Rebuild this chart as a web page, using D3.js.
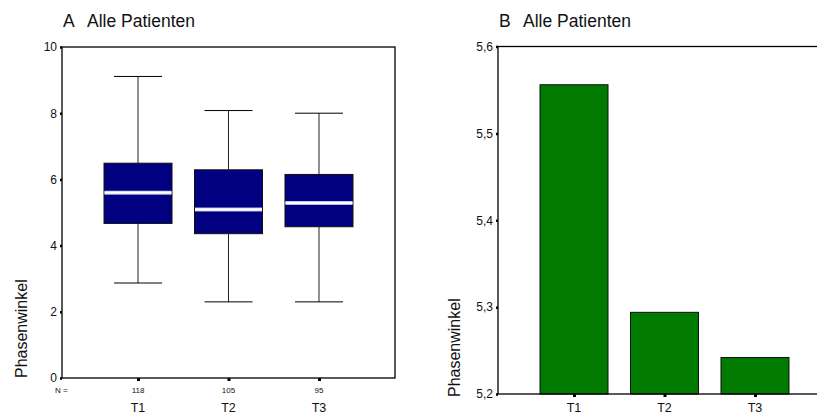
<!DOCTYPE html>
<html>
<head>
<meta charset="utf-8">
<script src="https://cdn.jsdelivr.net/npm/d3@7"></script>
<style>
  html, body { margin: 0; padding: 0; background: #fff; }
  svg { display: block; font-family: Arial, "Liberation Sans", sans-serif; }
</style>
</head>
<body>
<svg id="chart" width="817" height="415"></svg>
<script>
// Phasenwinkel at three time points
const categories = ["T1", "T2", "T3"];
const counts = [118, 105, 95];

// Boxplot statistics (panel A)
const whiskerLow = [2.87, 2.30, 2.30];
const quartile1 = [4.67, 4.36, 4.57];
const medians = [5.60, 5.09, 5.29];
const quartile3 = [6.49, 6.29, 6.15];
const whiskerHigh = [9.11, 8.08, 8.00];

// Mean values (panel B)
const means = [5.556, 5.294, 5.242];

const boxTicks = [0, 2, 4, 6, 8, 10];
const barTicks = [5.2, 5.3, 5.4, 5.5, 5.6];

const svg = d3.select("#chart");

function tickFormatDE(d) {
  return d3.format(".1f")(d).replace(".", ",");
}

// ---------- Panel A: boxplots ----------
(function () {
  const left = 62, right = 395, top = 47, bottom = 378;
  const g = svg.append("g");

  const x = d3.scalePoint().domain(categories).range([left, right]).padding(0.84);
  const y = d3.scaleLinear().domain([0, 10]).range([bottom, top]);

  const boxW = 68, capW = 48;

  g.append("text").attr("x", 63).attr("y", 27).attr("font-size", 17.5).attr("fill", "#111").text("A");
  g.append("text").attr("x", 87).attr("y", 27).attr("font-size", 17.5).attr("fill", "#111").text("Alle Patienten");

  // frame
  g.append("rect").attr("x", left).attr("y", top)
    .attr("width", right - left).attr("height", bottom - top)
    .attr("fill", "none").attr("stroke", "#000").attr("stroke-width", 1.3);

  const items = categories.map((c, i) => ({
    c, n: counts[i], lo: whiskerLow[i], q1: quartile1[i], med: medians[i], q3: quartile3[i], hi: whiskerHigh[i]
  }));

  const box = g.selectAll("g.box").data(items).join("g").attr("class", "box");

  // whisker stems
  box.append("line")
    .attr("x1", d => x(d.c)).attr("x2", d => x(d.c))
    .attr("y1", d => y(d.hi)).attr("y2", d => y(d.q3))
    .attr("stroke", "#222").attr("stroke-width", 1);
  box.append("line")
    .attr("x1", d => x(d.c)).attr("x2", d => x(d.c))
    .attr("y1", d => y(d.q1)).attr("y2", d => y(d.lo))
    .attr("stroke", "#222").attr("stroke-width", 1);
  // caps
  box.append("line")
    .attr("x1", d => x(d.c) - capW / 2).attr("x2", d => x(d.c) + capW / 2)
    .attr("y1", d => y(d.hi)).attr("y2", d => y(d.hi))
    .attr("stroke", "#000").attr("stroke-width", 1);
  box.append("line")
    .attr("x1", d => x(d.c) - capW / 2).attr("x2", d => x(d.c) + capW / 2)
    .attr("y1", d => y(d.lo)).attr("y2", d => y(d.lo))
    .attr("stroke", "#000").attr("stroke-width", 1);
  // boxes
  box.append("rect")
    .attr("x", d => x(d.c) - boxW / 2).attr("width", boxW)
    .attr("y", d => y(d.q3)).attr("height", d => y(d.q1) - y(d.q3))
    .attr("fill", "#000080").attr("stroke", "#111").attr("stroke-width", 1);
  // medians
  box.append("line")
    .attr("x1", d => x(d.c) - boxW / 2 + 0.5).attr("x2", d => x(d.c) + boxW / 2 - 0.5)
    .attr("y1", d => y(d.med)).attr("y2", d => y(d.med))
    .attr("stroke", "#b8b8e8").attr("stroke-width", 4);
  box.append("line")
    .attr("x1", d => x(d.c) - boxW / 2 + 0.5).attr("x2", d => x(d.c) + boxW / 2 - 0.5)
    .attr("y1", d => y(d.med)).attr("y2", d => y(d.med))
    .attr("stroke", "#fff").attr("stroke-width", 2.4);

  // y axis
  const ya = g.append("g").attr("transform", `translate(${left},0)`)
    .call(d3.axisLeft(y).tickValues(boxTicks).tickSize(2).tickPadding(3).tickFormat(d3.format("d")));
  ya.select(".domain").remove();
  ya.selectAll(".tick line").attr("stroke", "#000").attr("stroke-width", 2.5);
  ya.selectAll("text").attr("font-size", 12).attr("fill", "#111").attr("font-family", null);

  // x axis
  const xa = g.append("g").attr("transform", `translate(0,${bottom})`)
    .call(d3.axisBottom(x).tickSize(3).tickFormat(""));
  xa.select(".domain").remove();
  xa.selectAll(".tick line").attr("stroke", "#000").attr("stroke-width", 3);

  // N labels
  g.append("text").attr("x", 55).attr("y", 393).attr("font-size", 8).attr("fill", "#111").text("N =");
  g.selectAll("text.n").data(items).join("text").attr("class", "n")
    .attr("x", d => x(d.c)).attr("y", 393).attr("text-anchor", "middle")
    .attr("font-size", 8).attr("fill", "#111").text(d => d.n);
  g.selectAll("text.cat").data(categories).join("text").attr("class", "cat")
    .attr("x", d => x(d)).attr("y", 412).attr("text-anchor", "middle")
    .attr("font-size", 12.5).attr("fill", "#111").text(d => d);

  g.append("text").attr("transform", `translate(27,${bottom}) rotate(-90)`)
    .attr("font-size", 16).attr("fill", "#111").text("Phasenwinkel");
})();

// ---------- Panel B: mean bars ----------
(function () {
  const left = 498, right = 831, top = 46.5, bottom = 394;
  const g = svg.append("g");

  const x = d3.scalePoint().domain(categories).range([left, right]).padding(0.84);
  const y = d3.scaleLinear().domain([5.2, 5.6]).range([bottom, top]);
  const barW = 68;

  g.append("text").attr("x", 499).attr("y", 27).attr("font-size", 17.5).attr("fill", "#111").text("B");
  g.append("text").attr("x", 523).attr("y", 27).attr("font-size", 17.5).attr("fill", "#111").text("Alle Patienten");

  g.selectAll("rect.bar").data(categories).join("rect").attr("class", "bar")
    .attr("x", d => x(d) - barW / 2).attr("width", barW)
    .attr("y", (d, i) => y(means[i])).attr("height", (d, i) => bottom - y(means[i]))
    .attr("fill", "#007a00").attr("stroke", "#111").attr("stroke-width", 1);

  g.append("rect").attr("x", left).attr("y", top)
    .attr("width", right - left).attr("height", bottom - top)
    .attr("fill", "none").attr("stroke", "#000").attr("stroke-width", 1.3);

  const ya = g.append("g").attr("transform", `translate(${left},0)`)
    .call(d3.axisLeft(y).tickValues(barTicks).tickSize(2).tickPadding(3).tickFormat(tickFormatDE));
  ya.select(".domain").remove();
  ya.selectAll(".tick line").attr("stroke", "#000").attr("stroke-width", 2.5);
  ya.selectAll("text").attr("font-size", 12).attr("fill", "#111").attr("font-family", null);

  const xa = g.append("g").attr("transform", `translate(0,${bottom})`)
    .call(d3.axisBottom(x).tickSize(3).tickFormat(""));
  xa.select(".domain").remove();
  xa.selectAll(".tick line").attr("stroke", "#000").attr("stroke-width", 3);

  g.selectAll("text.cat").data(categories).join("text").attr("class", "cat")
    .attr("x", d => x(d)).attr("y", 412).attr("text-anchor", "middle")
    .attr("font-size", 12.5).attr("fill", "#111").text(d => d);

  g.append("text").attr("transform", `translate(459.5,397) rotate(-90)`)
    .attr("font-size", 16).attr("fill", "#111").text("Phasenwinkel");
})();
</script>
</body>
</html>
